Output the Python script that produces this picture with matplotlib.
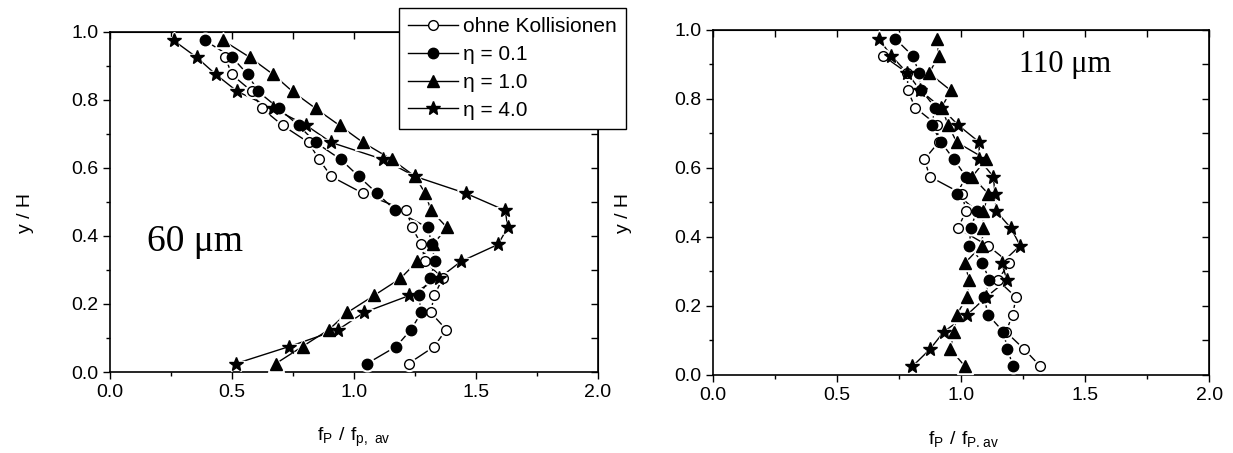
import matplotlib
matplotlib.use("Agg")
import matplotlib.pyplot as plt
from matplotlib.ticker import MultipleLocator
from matplotlib.lines import Line2D

plt.rcParams['font.family'] = ['Liberation Sans', 'DejaVu Sans']
plt.rcParams['mathtext.fontset'] = 'custom'
plt.rcParams['mathtext.rm'] = 'Liberation Sans'

# y / H positions (bottom to top)
y_all = [0.025, 0.075, 0.125, 0.175, 0.225, 0.275, 0.325, 0.375, 0.425, 0.475,
         0.525, 0.575, 0.625, 0.675, 0.725, 0.775, 0.825, 0.875, 0.925, 0.975]
y_ohne = y_all[:-1]   # no "ohne Kollisionen" point at 0.975

# 60 um
ohne_60 = [1.224, 1.329, 1.378, 1.314, 1.329, 1.363, 1.292, 1.276, 1.238, 1.215,
           1.038, 0.907, 0.857, 0.814, 0.708, 0.623, 0.582, 0.499, 0.473]
eta01_60 = [1.054, 1.173, 1.234, 1.276, 1.265, 1.313, 1.331, 1.320, 1.302, 1.170,
            1.095, 1.020, 0.946, 0.843, 0.773, 0.692, 0.607, 0.565, 0.501, 0.389]
eta10_60 = [0.680, 0.789, 0.898, 0.973, 1.082, 1.190, 1.259, 1.324, 1.381, 1.316,
            1.292, 1.251, 1.155, 1.037, 0.941, 0.843, 0.748, 0.669, 0.574, 0.464]
eta40_60 = [0.517, 0.735, 0.936, 1.041, 1.227, 1.347, 1.438, 1.590, 1.630, 1.620,
            1.460, 1.251, 1.120, 0.907, 0.805, 0.670, 0.522, 0.434, 0.356, 0.261]

# 110 um
ohne_110 = [1.320, 1.254, 1.181, 1.208, 1.222, 1.148, 1.195, 1.108, 0.987, 1.020,
            1.004, 0.874, 0.852, 0.910, 0.902, 0.815, 0.785, 0.784, 0.686]
eta01_110 = [1.210, 1.187, 1.171, 1.108, 1.094, 1.114, 1.086, 1.034, 1.039, 1.063,
             0.983, 1.020, 0.971, 0.919, 0.882, 0.896, 0.840, 0.831, 0.805, 0.734]
eta10_110 = [1.016, 0.956, 0.972, 0.983, 1.023, 1.032, 1.016, 1.083, 1.090, 1.090,
             1.110, 1.045, 1.101, 0.982, 0.948, 0.922, 0.958, 0.871, 0.910, 0.903]
eta40_110 = [0.804, 0.875, 0.930, 1.025, 1.100, 1.185, 1.164, 1.238, 1.202, 1.141,
             1.137, 1.130, 1.073, 1.073, 0.987, 0.920, 0.835, 0.784, 0.719, 0.668]

labels = ['ohne Kollisionen', 'η = 0.1', 'η = 1.0', 'η = 4.0']
markers = ['o', 'o', '^', '*']
msizes = [7, 7.5, 8, 10]
faces = ['white', 'black', 'black', 'black']

fig = plt.figure(figsize=(12.33, 4.53), dpi=100)
ax1 = fig.add_axes([0.0892, 0.1788, 0.3958, 0.7506])
ax2 = fig.add_axes([0.5783, 0.1722, 0.4023, 0.7616])


def draw(ax, series):
    for i, (xs, ys) in enumerate(series):
        ax.plot(xs, ys, color='black', lw=1.0, zorder=2)
        # white halo -> small gap between line and symbol
        ax.plot(xs, ys, ls='none', marker=markers[i], ms=msizes[i] + 3,
                mfc='white', mec='white', zorder=3)
        ax.plot(xs, ys, ls='none', marker=markers[i], ms=msizes[i],
                mfc=faces[i], mec='black', mew=1.0, zorder=4)


s60 = [(ohne_60, y_ohne), (eta01_60, y_all), (eta10_60, y_all), (eta40_60, y_all)]
s110 = [(ohne_110, y_ohne), (eta01_110, y_all), (eta10_110, y_all), (eta40_110, y_all)]
draw(ax1, s60)
draw(ax2, s110)

for ax in (ax1, ax2):
    ax.set_xlim(0, 2.0)
    ax.set_ylim(0, 1.0)
    ax.xaxis.set_major_locator(MultipleLocator(0.5))
    ax.xaxis.set_minor_locator(MultipleLocator(0.25))
    ax.yaxis.set_major_locator(MultipleLocator(0.2))
    ax.yaxis.set_minor_locator(MultipleLocator(0.1))
    ax.tick_params(which='major', direction='out', length=5, width=1, labelsize=14)
    ax.tick_params(which='minor', direction='out', length=3, width=1)
    for sp in ax.spines.values():
        sp.set_linewidth(1.2)
    top = ax.secondary_xaxis('top')
    top.xaxis.set_major_locator(MultipleLocator(0.25))
    top.tick_params(direction='in', length=5, width=1, labeltop=False)
    right = ax.secondary_yaxis('right')
    right.yaxis.set_major_locator(MultipleLocator(0.1))
    right.tick_params(direction='in', length=5, width=1, labelright=False)

ax1.text(0.347, 0.382, '60 μm', family='Liberation Serif', fontsize=27,
         ha='center', va='center')
ax2.text(1.42, 0.90, '110 μm', family='Liberation Serif', fontsize=22,
         ha='center', va='center')

fig.text(0.021, 0.53, 'y / H', rotation=90, fontsize=14, ha='center', va='center')
fig.text(0.506, 0.53, 'y / H', rotation=90, fontsize=14, ha='center', va='center')
fig.text(0.287, 0.035, r'$\mathregular{f_P\ /\ f_{p,\ av}}$', fontsize=14, ha='center', va='center')
fig.text(0.781, 0.03, r'$\mathregular{f_P\ /\ f_{P.av}}$', fontsize=14, ha='center', va='center')

# legend with line through symbol
leg_handles = [Line2D([], [], color='black', lw=1.0, marker=markers[i], ms=msizes[i],
                      mfc=faces[i], mec='black') for i in range(4)]
leg = fig.legend(leg_handles, labels, loc='upper left',
                 bbox_to_anchor=(0.3236, 0.9823), bbox_transform=fig.transFigure,
                 fontsize=15, frameon=True, fancybox=False, framealpha=1,
                 edgecolor='black', borderaxespad=0, handlelength=2.4,
                 handletextpad=0.2, labelspacing=0.42, borderpad=0.45)
leg.get_frame().set_linewidth(1.0)

fig.savefig('out.png', dpi=100)
